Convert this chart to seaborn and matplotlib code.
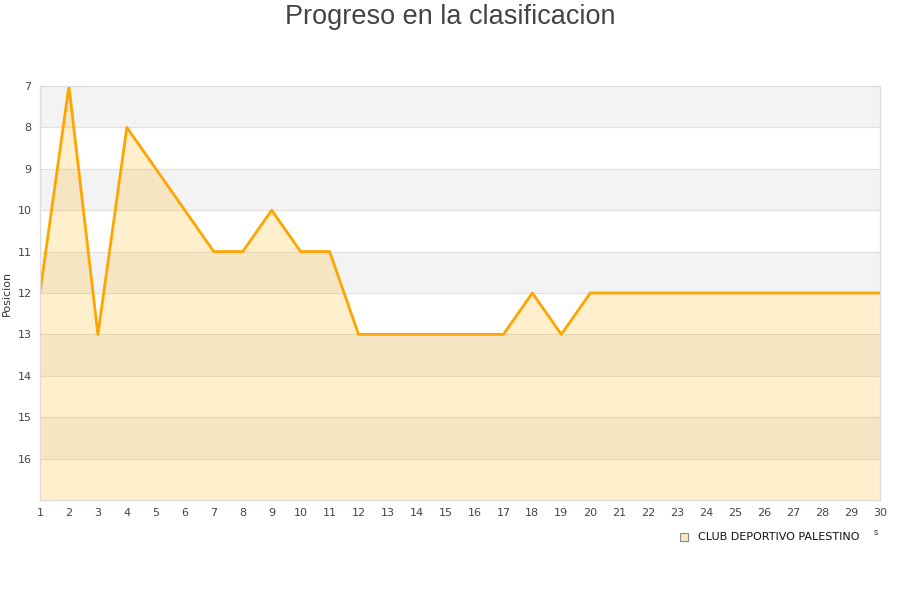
import numpy as np
import pandas as pd
import seaborn as sns
import matplotlib
matplotlib.use('Agg')
import matplotlib.pyplot as plt

jornadas = list(range(1, 31))
posiciones = [12, 7, 13, 8, 9, 10, 11, 11, 10, 11,
              11, 13, 13, 13, 13, 13, 13, 12, 13, 12,
              12, 12, 12, 12, 12, 12, 12, 12, 12, 12]
equipo = 'CLUB DEPORTIVO PALESTINO'
y_ticks = [7, 8, 9, 10, 11, 12, 13, 14, 15, 16]

df = pd.DataFrame({'Jornada': jornadas, 'Posicion': posiciones})

sns.set_style('white')
plt.rcParams['font.family'] = ['DejaVu Sans']

fig = plt.figure(figsize=(9, 6), dpi=100)
ax = fig.add_axes([0.0444, 0.1667, 0.9333, 0.69])

# alternating bands
for i, lo in enumerate(range(7, 17)):
    if i % 2 == 0:
        ax.axhspan(lo, lo + 1, color='#f3f3f3', zorder=0, lw=0)
for v in range(8, 17):
    ax.axhline(v, color='#e0e0e0', lw=0.8, zorder=0.5)

ax.fill_between(df['Jornada'], df['Posicion'], 17, color='#ffb000', alpha=0.2, lw=0, zorder=1)
sns.lineplot(data=df, x='Jornada', y='Posicion', ax=ax, color='#ffa500', lw=2, zorder=2)

ax.set_xlim(1, 30)
ax.set_ylim(17, 7)
ax.set_xticks(jornadas)
ax.set_yticks(y_ticks)
ax.tick_params(axis='both', labelsize=8, colors='#444444', length=0, pad=6)
ax.set_xlabel('')
ax.set_ylabel('Posicion', fontsize=8, color='#333333')
for s in ax.spines.values():
    s.set_color('#dddddd')
    s.set_linewidth(1)

fig.text(0.5, 0.972, 'Progreso en la clasificacion', ha='center', va='center',
         fontsize=19.5, color='#444444', family='Liberation Sans')

# legend
fig.patches.append(plt.Rectangle((0.7555, 0.0983), 0.0089, 0.0133, transform=fig.transFigure,
                                 facecolor='#fde8c4', edgecolor='#888888', lw=0.8))
fig.text(0.7755, 0.105, equipo, fontsize=8, color='#111111', va='center')
fig.text(0.971, 0.113, 's', fontsize=6, color='#333333', va='center')

fig.savefig('out.png', dpi=100)
